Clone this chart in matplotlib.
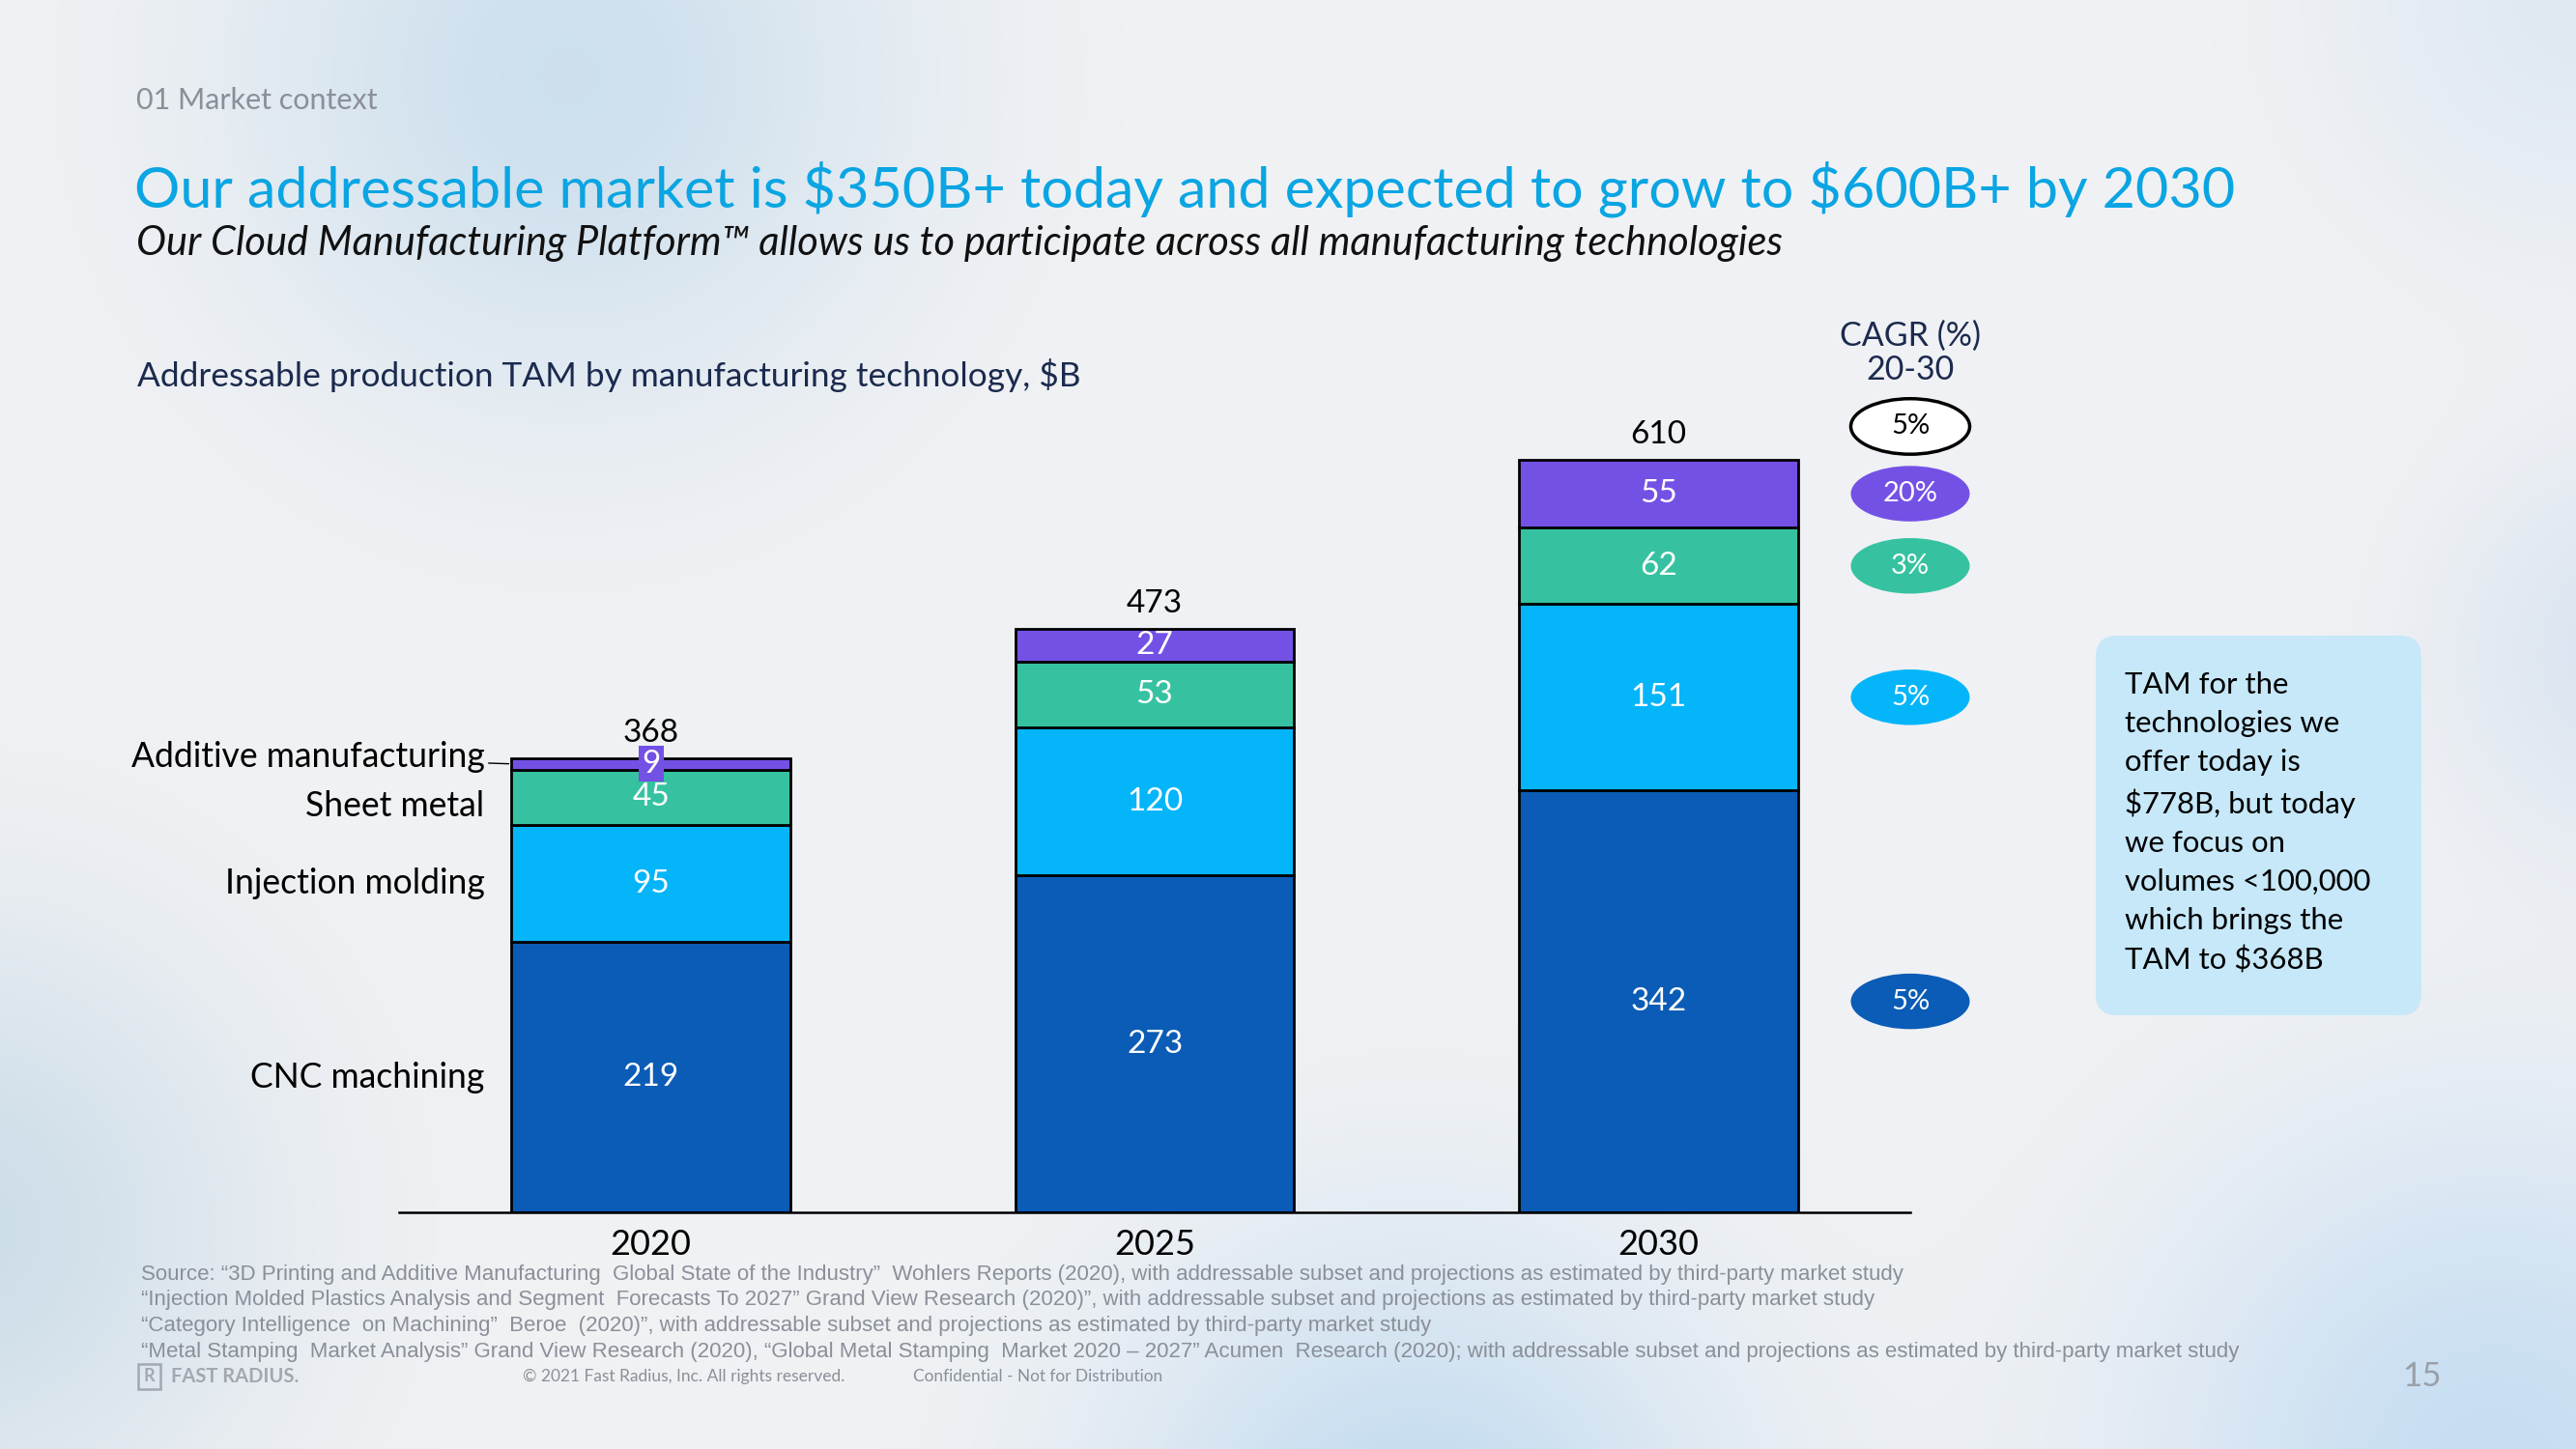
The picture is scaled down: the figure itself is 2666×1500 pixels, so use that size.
import numpy as np
import matplotlib.pyplot as plt
from matplotlib.patches import Ellipse, FancyBboxPatch, Rectangle

plt.rcParams["font.family"] = ["Lato", "DejaVu Sans"]

# ---- data ----
years = ["2020", "2025", "2030"]
technologies = ["CNC machining", "Injection molding", "Sheet metal", "Additive manufacturing"]
cnc = [219, 273, 342]
injection = [95, 120, 151]
sheet_metal = [45, 53, 62]
additive = [9, 27, 55]
totals = [368, 473, 610]
cagr_by_tech = ["5%", "5%", "3%", "20%"]   # 2020-30, same order as technologies
cagr_total = "5%"

colors = ["#0B5CB6", "#05B5FA", "#36C2A0", "#7451E5"]
series = [cnc, injection, sheet_metal, additive]

sources = [
    "Source: \u201c3D Printing and Additive Manufacturing  Global State of the Industry\u201d  Wohlers Reports (2020), with addressable subset and projections as estimated by third-party market study",
    "\u201cInjection Molded Plastics Analysis and Segment  Forecasts To 2027\u201d Grand View Research (2020)\u201d, with addressable subset and projections as estimated by third-party market study",
    "\u201cCategory Intelligence  on Machining\u201d  Beroe  (2020)\u201d, with addressable subset and projections as estimated by third-party market study",
    "\u201cMetal Stamping  Market Analysis\u201d Grand View Research (2020), \u201cGlobal Metal Stamping  Market 2020 \u2013 2027\u201d Acumen  Research (2020); with addressable subset and projections as estimated by third-party market study",
]
box_text = ("TAM for the\ntechnologies we\noffer today is\n\\$778B, but today\n"
            "we focus on\nvolumes <100,000\nwhich brings the\nTAM to \\$368B")

W, H = 2666, 1500
fig = plt.figure(figsize=(W / 100, H / 100), dpi=100)


def fx(px):
    return px / W


def fy(py):
    return 1 - py / H


# ---- soft bluish background ----
gy, gx = np.mgrid[0:1:150j, 0:1:267j]
img = np.ones((150, 267, 3)) * np.array([0.945, 0.949, 0.957])
blobs = [
    ((0.22, 0.05), (0.79, 0.87, 0.93), 0.16, 0.9),
    ((-0.02, 0.85), (0.79, 0.86, 0.91), 0.15, 0.9),
    ((0.55, 1.08), (0.74, 0.85, 0.94), 0.15, 0.9),
    ((0.97, 1.02), (0.76, 0.86, 0.95), 0.17, 0.9),
    ((1.03, 0.45), (0.83, 0.88, 0.94), 0.10, 0.8),
    ((1.0, 0.0), (0.85, 0.90, 0.95), 0.12, 0.7),
]
for (cx, cy), col, sig, strength in blobs:
    d2 = ((gx - cx) * W / H) ** 2 + (gy - cy) ** 2
    w = (strength * np.exp(-d2 / (2 * sig ** 2)))[..., None]
    img = img * (1 - w) + np.array(col) * w
bg = fig.add_axes([0, 0, 1, 1], zorder=-10)
bg.imshow(img, aspect="auto", interpolation="bilinear", extent=(0, 1, 0, 1))
bg.axis("off")

# ---- header texts ----
fig.text(fx(141), fy(104), "01 Market context", fontsize=22, color="#8A8F99", va="center")
fig.text(fx(139), fy(196), "Our addressable market is \\$350B+ today and expected to grow to \\$600B+ by 2030",
         fontsize=42.7, color="#0AA5E2", va="center")
fig.text(fx(141), fy(252), "Our Cloud Manufacturing Platform\u2122 allows us to participate across all manufacturing technologies",
         fontsize=30, style="italic", color="#111111", va="center")
fig.text(fx(142), fy(388), "Addressable production TAM by manufacturing technology, \\$B",
         fontsize=25.4, color="#1B2A4E", va="center")

# ---- stacked bars ----
ax = fig.add_axes([fx(413), fy(1255), fx(1977 - 413), 894 / H])
ax.patch.set_alpha(0)
x = np.arange(len(years))
bar_w = 0.554
bottom = np.zeros(len(years))
bottoms = []
for name, vals, col in zip(technologies, series, colors):
    vals = np.array(vals)
    ax.bar(x, vals, width=bar_w, bottom=bottom, color=col, edgecolor="black", linewidth=2)
    for xi, v, b in zip(x, vals, bottom):
        kw = {}
        if v < 15:
            kw["bbox"] = dict(boxstyle="square,pad=0.1", facecolor=col, edgecolor="none")
        ax.text(xi, b + v / 2, str(v), ha="center", va="center", color="white", fontsize=24, **kw)
    bottoms.append(bottom.copy())
    bottom = bottom + vals

for xi, t in zip(x, totals):
    ax.annotate(str(t), (xi, t), xytext=(0, 8), textcoords="offset points",
                ha="center", va="bottom", fontsize=24, color="black")

# category labels left of the first bar
label_dy = [0, 0, -6.5, 5]
for k, name in enumerate(technologies):
    yc = bottoms[k][0] + series[k][0] / 2
    arrow = dict(arrowstyle="-", color="black", lw=1, shrinkA=1, shrinkB=2) if k == 3 else None
    ax.annotate(name, (x[0] - bar_w / 2, yc), xytext=(-20, label_dy[k]), textcoords="offset points",
                ha="right", va="center", fontsize=25.6, color="black", arrowprops=arrow,
                annotation_clip=False)

# CAGR bubbles aligned with the 2030 segments
bx = 2.5
for k in range(len(technologies)):
    yc = bottoms[k][2] + series[k][2] / 2
    ax.add_patch(Ellipse((bx, yc), 0.236, 45, facecolor=colors[k], edgecolor="none", clip_on=False))
    ax.text(bx, yc, cagr_by_tech[k], ha="center", va="center", color="white", fontsize=21)
ax.add_patch(Ellipse((bx, totals[2] + 27), 0.236, 45, facecolor="white", edgecolor="black",
                     linewidth=2.5, clip_on=False))
ax.text(bx, totals[2] + 27, cagr_total, ha="center", va="center", color="black", fontsize=21)
fig.text(fx(1977), fy(348), "CAGR (%)", ha="center", va="center", fontsize=24.5, color="#1B2A4E")
fig.text(fx(1977), fy(383), "20-30", ha="center", va="center", fontsize=24.5, color="#1B2A4E")

ax.set_xlim(-0.5, 2.5)
ax.set_ylim(0, 700)
ax.set_xticks(x, years)
ax.tick_params(axis="x", length=0, pad=12, labelsize=26)
ax.set_yticks([])
for side in ["top", "left", "right"]:
    ax.spines[side].set_visible(False)
ax.spines["bottom"].set_linewidth(1.8)

# ---- side note box ----
fig.patches.append(FancyBboxPatch((2169 / 100, (H - 1051) / 100), (2506 - 2169) / 100, (1051 - 658) / 100,
                                  boxstyle="round,pad=0,rounding_size=0.22",
                                  transform=fig.dpi_scale_trans, facecolor="#C6E8F9",
                                  edgecolor="none", zorder=1))
fig.text(fx(2199), fy(852), box_text, fontsize=22.4, linespacing=1.52, va="center", ha="left",
         color="black", zorder=2)

# ---- sources and footer ----
for i, line in enumerate(sources):
    fig.text(fx(146), fy(1319 + i * 26.7), line, fontsize=16, color="#8A8F99", va="center",
             family=["Liberation Sans", "DejaVu Sans"])

fig.patches.append(Rectangle((143 / 100, (H - 1438) / 100), 23 / 100, 26 / 100, transform=fig.dpi_scale_trans,
                             facecolor="none", edgecolor="#A3A8B0", linewidth=1.8))
fig.text(fx(154.5), fy(1425), "R", fontsize=13, color="#A3A8B0", ha="center", va="center", fontweight="bold")
fig.text(fx(177), fy(1425), "FAST RADIUS.", fontsize=14.5, color="#A3A8B0", va="center", fontweight="bold")
fig.text(fx(541), fy(1425), "\u00a9 2021 Fast Radius, Inc. All rights reserved.", fontsize=12.5,
         color="#8A8F99", va="center")
fig.text(fx(945), fy(1425), "Confidential - Not for Distribution", fontsize=12.4, color="#8A8F99", va="center")
fig.text(fx(2506), fy(1425), "15", fontsize=25, color="#9AA0A8", ha="center", va="center")

fig.savefig("out.png", dpi=100)
